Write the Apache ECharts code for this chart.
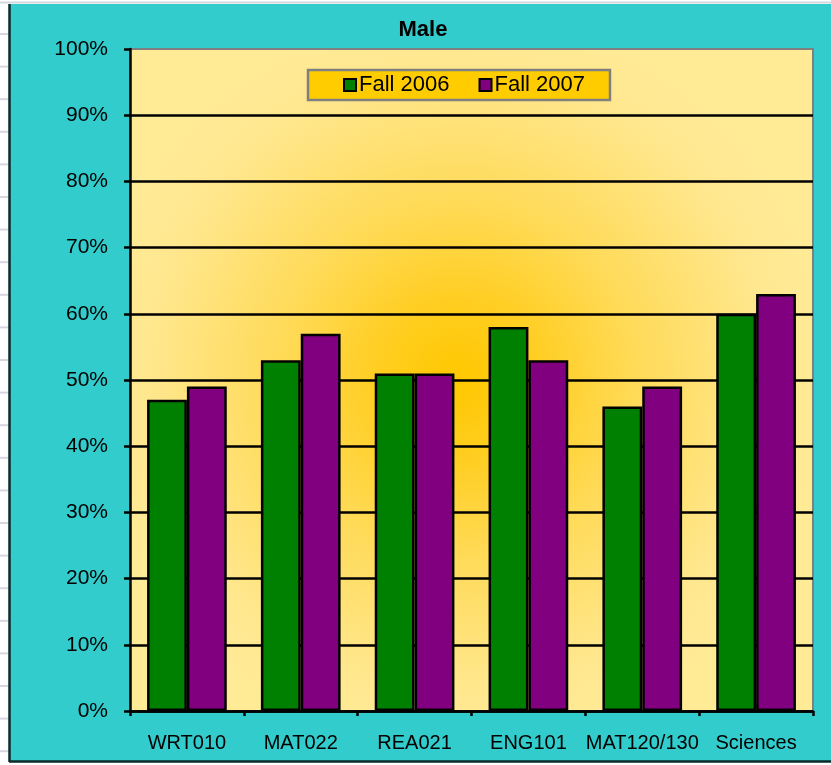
<!DOCTYPE html>
<html>
<head>
<meta charset="utf-8">
<script src="https://cdn.jsdelivr.net/npm/echarts@6/dist/echarts.min.js"></script>
<style>
html,body{margin:0;padding:0;background:#fff;}
#c{width:831px;height:765px;}
</style>
</head>
<body>
<div id="c"></div>
<script>
const categories = ['WRT010', 'MAT022', 'REA021', 'ENG101', 'MAT120/130', 'Sciences'];
const fall2006 = [47, 53, 51, 58, 46, 60];
const fall2007 = [49, 57, 51, 53, 49, 63];
const seriesNames = ['Fall 2006', 'Fall 2007'];
const titleText = 'Male';

const FONT = "'Liberation Sans', Arial, sans-serif";
const chart = echarts.init(document.getElementById('c'));

const sheetLines = [];
for (let i = 0; i < 23; i++) {
  const y = 34 + i * 32.6;
  sheetLines.push({type:'line', z:-20, shape:{x1:0, y1:y, x2:9, y2:y}, style:{stroke:'#d3d7df', lineWidth:2}});
}

chart.setOption({
  backgroundColor: '#ffffff',
  animation: false,
  graphic: [
    {type:'line', z:-20, shape:{x1:0, y1:2.5, x2:831, y2:2.5}, style:{stroke:'#d3d7df', lineWidth:2}},
    ...sheetLines,
    {type:'rect', z:-10, shape:{x:9, y:4, width:830, height:758}, style:{fill:'#33CCCC'}},
    {type:'line', z:-9, shape:{x1:9.5, y1:4, x2:9.5, y2:762}, style:{stroke:'#0d2a2a', lineWidth:2.5}},
    {type:'line', z:-9, shape:{x1:9, y1:761.5, x2:831, y2:761.5}, style:{stroke:'#0d2a2a', lineWidth:2.5}}
  ],
  title: {
    text: titleText,
    left: 418,
    textAlign: 'center',
    top: 14,
    textStyle: {fontFamily: FONT, fontSize: 22, fontWeight: 'bold', color: '#000'}
  },
  legend: {
    data: seriesNames,
    left: 308,
    top: 70,
    padding: [4, 25, 4, 35],
    itemGap: 29,
    itemWidth: 12,
    itemHeight: 12,
    backgroundColor: '#FFCC00',
    borderColor: '#808080',
    borderWidth: 2.5,
    borderRadius: 0,
    icon: 'rect',
    itemStyle: {borderColor: '#000', borderWidth: 2},
    textStyle: {fontFamily: FONT, fontSize: 22, color: '#000', padding: [0, 0, 0, -2]}
  },
  grid: {
    left: 130, right: 18, top: 49, bottom: 54,
    show: true,
    borderColor: '#808080',
    borderWidth: 2,
    backgroundColor: {
      type: 'radial', x: 0.48, y: 0.5, r: 0.55,
      colorStops: [
        {offset: 0, color: '#FFC800'},
        {offset: 0.2, color: '#FFCD1E'},
        {offset: 0.5, color: '#FFDB5A'},
        {offset: 0.85, color: '#FFE78E'},
        {offset: 1, color: '#FFEA96'}
      ]
    }
  },
  xAxis: {
    type: 'category',
    data: categories,
    axisLine: {lineStyle: {color: '#000', width: 2.5}},
    axisTick: {show: true, length: 5, lineStyle: {color: '#000', width: 2.5}},
    axisLabel: {fontFamily: FONT, fontSize: 20, color: '#000', margin: 22, interval: 0}
  },
  yAxis: {
    type: 'value',
    min: 0, max: 100, interval: 10,
    axisLine: {show: true, lineStyle: {color: '#000', width: 2.5}},
    axisTick: {show: true, length: 6, lineStyle: {color: '#000', width: 2.5}},
    axisLabel: {fontFamily: FONT, fontSize: 21, color: '#000', margin: 22, formatter: '{value}%'},
    splitLine: {show: true, showMaxLine: false, lineStyle: {color: '#000', width: 2.5}}
  },
  series: [
    {
      name: seriesNames[0], type: 'bar', data: fall2006,
      barGap: '0%', barCategoryGap: '30%',
      itemStyle: {color: '#008000', borderColor: '#000', borderWidth: 2.5}
    },
    {
      name: seriesNames[1], type: 'bar', data: fall2007,
      barGap: '0%', barCategoryGap: '30%',
      itemStyle: {color: '#800080', borderColor: '#000', borderWidth: 2.5}
    }
  ]
});
</script>
</body>
</html>
